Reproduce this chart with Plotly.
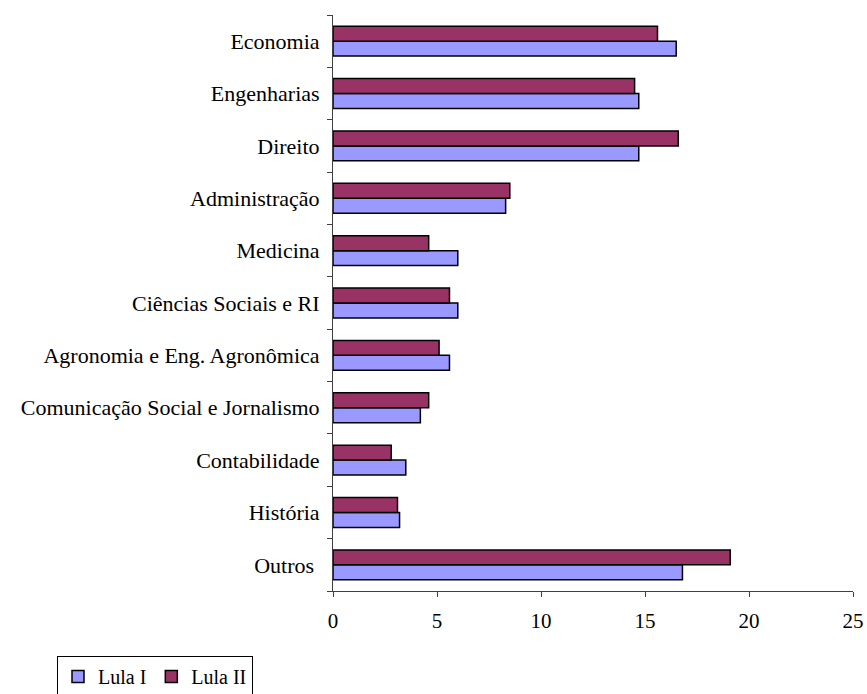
import plotly.graph_objects as go

categories = ["Economia", "Engenharias", "Direito", "Administração", "Medicina",
              "Ciências Sociais e RI", "Agronomia e Eng. Agronômica",
              "Comunicação Social e Jornalismo", "Contabilidade", "História",
              "Outros\u00a0"]
lula_i = [16.5, 14.7, 14.7, 8.3, 6.0, 6.0, 5.6, 4.2, 3.5, 3.2, 16.8]
lula_ii = [15.6, 14.5, 16.6, 8.5, 4.6, 5.6, 5.1, 4.6, 2.8, 3.1, 19.1]
x_ticks = [0, 5, 10, 15, 20, 25]

FONT = "Liberation Serif"

fig = go.Figure()
fig.add_trace(go.Bar(y=categories, x=lula_i, orientation="h", name="Lula I",
                     marker=dict(color="#9999FF", line=dict(color="black", width=1.5))))
fig.add_trace(go.Bar(y=categories, x=lula_ii, orientation="h", name="Lula II",
                     marker=dict(color="#993366", line=dict(color="black", width=1.5))))

fig.update_layout(
    width=867, height=694,
    margin=dict(l=333, r=14, t=15, b=103, autoexpand=False),
    paper_bgcolor="white", plot_bgcolor="white",
    barmode="group", bargap=0.43, bargroupgap=0,
    font=dict(family=FONT, size=20, color="black"),
    showlegend=True,
    legend=dict(orientation="h", xref="container", yref="container",
                x=57/867, y=1-656/694, xanchor="left", yanchor="top",
                bordercolor="black", borderwidth=1, bgcolor="white",
                font=dict(family=FONT, size=20, color="black"),
                itemwidth=30, tracegroupgap=0),
)
fig.update_xaxes(range=[0, 25], tickvals=x_ticks, ticktext=[str(v) for v in x_ticks],
                 showgrid=False, zeroline=False, showline=True, linecolor="#404040",
                 linewidth=1, ticks="outside", ticklen=5, tickcolor="#404040",
                 automargin=False,
                 ticklabelstandoff=6, tickfont=dict(family=FONT, size=21))
fig.update_yaxes(categoryorder="array", categoryarray=categories[::-1],
                 showgrid=False, zeroline=False, showline=True, linecolor="#404040",
                 linewidth=1, ticks="outside", ticklen=5, tickcolor="#404040",
                 automargin=False,
                 tickson="boundaries", ticklabelstandoff=8,
                 tickfont=dict(family=FONT, size=22))

fig.write_html("out.html")
